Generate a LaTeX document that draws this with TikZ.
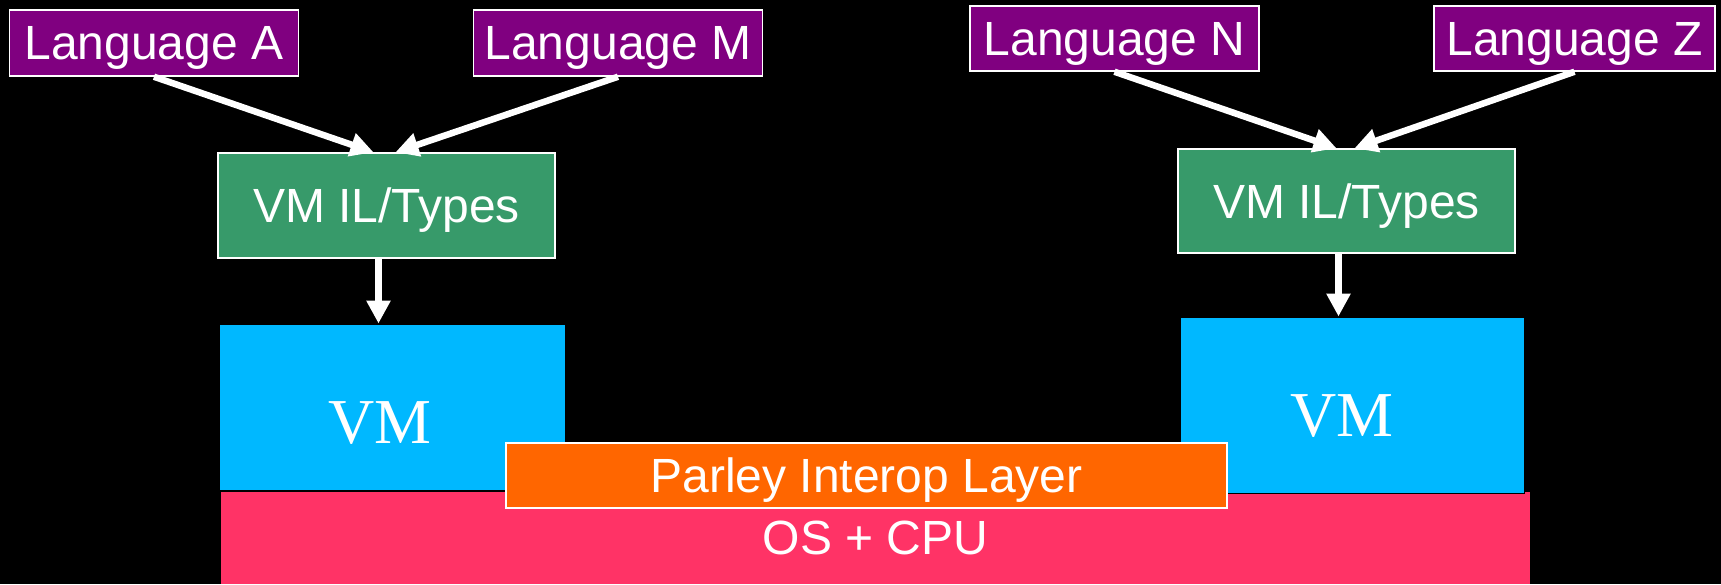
\documentclass[tikz,border=0pt]{standalone}
\usepackage{fontspec}
\setmainfont{Liberation Sans}
\newfontfamily\vmfont{Liberation Serif}
\usetikzlibrary{arrows.meta, positioning}

\definecolor{langpurple}{HTML}{800080}
\definecolor{ilgreen}{HTML}{379A6A}
\definecolor{vmblue}{HTML}{00B8FF}
\definecolor{parleyorange}{HTML}{FF6600}
\definecolor{ospink}{HTML}{FF3366}

\begin{document}
\begin{tikzpicture} [x=1pt, y=-1pt, inner sep=0pt, text=white, text depth=0pt,
        font=\fontsize{48}{56}\selectfont,
        box/.style={draw=white, line width=1.5pt, minimum height=66pt},
        lang/.style={box, fill=langpurple, minimum width=289pt},
        il/.style={box, fill=ilgreen, minimum width=337pt, minimum height=105pt},
        vm/.style={fill=vmblue, draw=black, line width=1pt},
        vmtext/.style={font=\vmfont\fontsize{64}{72}\selectfont},
        arr/.style={-{Triangle[length=23pt, width=23pt]}, white, line width=6.5pt}]
        \path [use as bounding box, fill=black] (0,0) rectangle (1721,584);

        \node (la) [lang] at (154,43) {Language A};
        \node (lm) [lang] at (618,43) {Language M};
        \node (ln) [lang, minimum height=65pt] at (1114.5,38.5) {Language N};
        \node (lz) [lang, minimum height=65pt, minimum width=281pt] at (1574.5,38.5) {Language Z};

        \node (il1) [il] at (386.5,205.5) {VM IL/Types};
        \node (il2) [il, minimum height=104pt] at (1346.5,201) {VM IL/Types};

        \node (os) [fill=ospink, minimum width=1309pt, minimum height=92pt] at (875.5,538) {OS + CPU};
        \node (vm1) [vm, minimum width=346pt, minimum height=166pt,
            label={[xshift=-12pt, yshift=-16pt, vmtext]center:VM}] at (392,407) {};
        \node (vm2) [vm, minimum width=344pt, minimum height=176pt,
            label={[xshift=-10pt, yshift=-11pt, vmtext]center:VM}] at (1352,405) {};
        \node (parley) [box, fill=parleyorange, line width=2pt, minimum width=721pt,
            minimum height=65pt] at (866.5,475.5) {Parley Interop Layer};

        \path [arr] (la.south) edge ([xshift=-13pt]il1.north);
        \path [arr] (lm.south) edge ([xshift=9pt]il1.north);
        \path [arr] (ln.south) edge ([xshift=-10pt]il2.north);
        \path [arr] (lz.south) edge ([xshift=8pt]il2.north);
        \path [arr] ([xshift=-8pt]il1.south) edge ([xshift=-13.5pt]vm1.north);
        \path [arr] ([xshift=-8pt]il2.south) edge ([xshift=-13.5pt]vm2.north);

    \end{tikzpicture}
\end{document}
